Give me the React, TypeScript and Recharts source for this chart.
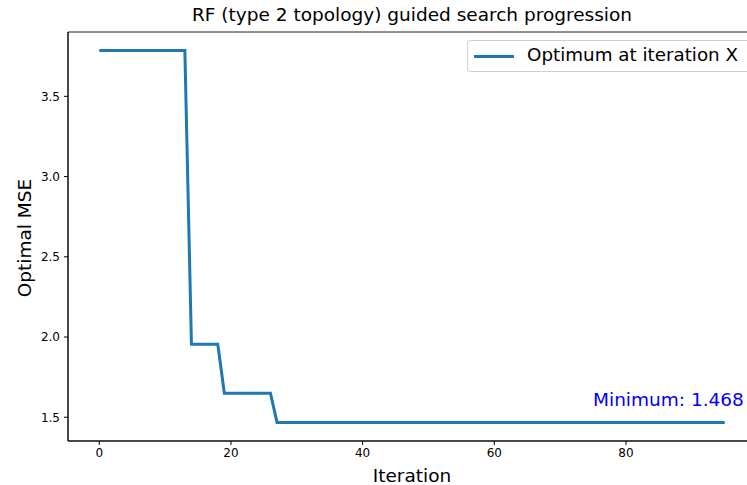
import React from "react";
import {
  LineChart,
  Line,
  XAxis,
  YAxis,
  Legend,
  Label,
  ReferenceArea,
  ReferenceDot,
} from "recharts";

const iterations = [
  0, 1, 2, 3, 4, 5, 6, 7, 8, 9, 10, 11, 12, 13, 14, 15, 16, 17, 18, 19,
  20, 21, 22, 23, 24, 25, 26, 27, 28, 29, 30, 31, 32, 33, 34, 35, 36, 37, 38, 39,
  40, 41, 42, 43, 44, 45, 46, 47, 48, 49, 50, 51, 52, 53, 54, 55, 56, 57, 58, 59,
  60, 61, 62, 63, 64, 65, 66, 67, 68, 69, 70, 71, 72, 73, 74, 75, 76, 77, 78, 79,
  80, 81, 82, 83, 84, 85, 86, 87, 88, 89, 90, 91, 92, 93, 94, 95,
];

const optimumMse = [
  3.785, 3.785, 3.785, 3.785, 3.785, 3.785, 3.785, 3.785, 3.785, 3.785,
  3.785, 3.785, 3.785, 3.785, 1.955, 1.955, 1.955, 1.955, 1.955, 1.65,
  1.65, 1.65, 1.65, 1.65, 1.65, 1.65, 1.65, 1.468, 1.468, 1.468,
  1.468, 1.468, 1.468, 1.468, 1.468, 1.468, 1.468, 1.468, 1.468, 1.468,
  1.468, 1.468, 1.468, 1.468, 1.468, 1.468, 1.468, 1.468, 1.468, 1.468,
  1.468, 1.468, 1.468, 1.468, 1.468, 1.468, 1.468, 1.468, 1.468, 1.468,
  1.468, 1.468, 1.468, 1.468, 1.468, 1.468, 1.468, 1.468, 1.468, 1.468,
  1.468, 1.468, 1.468, 1.468, 1.468, 1.468, 1.468, 1.468, 1.468, 1.468,
  1.468, 1.468, 1.468, 1.468, 1.468, 1.468, 1.468, 1.468, 1.468, 1.468,
  1.468, 1.468, 1.468, 1.468, 1.468, 1.468,
];

const xTicks = [0, 20, 40, 60, 80];
const yTicks = [1.5, 2.0, 2.5, 3.0, 3.5];
const minimum = 1.468;

const data = iterations.map((it, i) => ({ iteration: it, mse: optimumMse[i] }));

const X_DOMAIN = [-4.75, 99.75];
const Y_DOMAIN = [1.352, 3.901];
const FONT = "'DejaVu Sans', sans-serif";

const MinimumLabel = (props: any) => {
  const { x, y } = props.viewBox;
  return (
    <text x={x} y={y} fill="#0000ff" fontSize={18.5} fontFamily={FONT} textAnchor="start">
      {`Minimum: ${minimum.toFixed(3)}`}
    </text>
  );
};

const LegendBox = () => (
  <div
    style={{
      position: "absolute",
      left: 467,
      top: 40,
      width: 300,
      height: 32,
      border: "1px solid #d0d0d0",
      borderRadius: 3,
      background: "#fff",
      fontFamily: FONT,
      fontSize: 18.3,
      color: "#000",
      boxSizing: "border-box",
    }}
  >
    <div
      style={{
        position: "absolute",
        left: 6,
        top: 14,
        width: 40,
        height: 3,
        background: "#1f77b4",
      }}
    />
    <span style={{ position: "absolute", left: 59, top: 3, whiteSpace: "nowrap" }}>
      Optimum at iteration X
    </span>
  </div>
);

export default function App() {
  return (
    <div
      style={{
        position: "absolute",
        left: 0,
        top: 0,
        width: 747,
        height: 485,
        overflow: "hidden",
        background: "#fff",
        fontFamily: FONT,
      }}
    >
      <div
        style={{
          position: "absolute",
          left: 68,
          width: 688,
          top: 4,
          textAlign: "center",
          fontSize: 18.5,
          color: "#000",
          whiteSpace: "nowrap",
        }}
      >
        RF (type 2 topology) guided search progression
      </div>
      <LineChart
        width={770}
        height={485}
        data={data}
        margin={{ top: 32, right: 14, bottom: 0, left: 0 }}
      >
        <XAxis
          dataKey="iteration"
          type="number"
          domain={X_DOMAIN}
          ticks={xTicks}
          allowDataOverflow
          height={44}
          tickSize={4}
          tickMargin={3}
          stroke="#000"
          tick={{ fill: "#000", fontSize: 12, fontFamily: FONT }}
        >
          <Label
            content={(p: any) => (
              <text
                x={p.viewBox.x + p.viewBox.width / 2}
                y={482}
                textAnchor="middle"
                fontSize={18.5}
                fontFamily={FONT}
                fill="#000"
              >
                Iteration
              </text>
            )}
          />
        </XAxis>
        <YAxis
          type="number"
          domain={Y_DOMAIN}
          ticks={yTicks}
          allowDataOverflow
          width={68}
          tickSize={4}
          tickMargin={4}
          stroke="#000"
          tickFormatter={(v: number) => v.toFixed(1)}
          tick={{ fill: "#000", fontSize: 12, fontFamily: FONT }}
        >
          <Label
            content={() => {
              const cy = 238;
              return (
                <text
                  x={30.5}
                  y={cy}
                  transform={`rotate(-90, 30.5, ${cy})`}
                  textAnchor="middle"
                  fontSize={18.5}
                  fontFamily={FONT}
                  fill="#000"
                >
                  Optimal MSE
                </text>
              );
            }}
          />
        </YAxis>
        <ReferenceArea
          x1={X_DOMAIN[0]}
          x2={X_DOMAIN[1]}
          y1={Y_DOMAIN[0]}
          y2={Y_DOMAIN[1]}
          fill="none"
          stroke="#222"
          strokeWidth={1}
        />
        <Line
          dataKey="mse"
          type="linear"
          stroke="#1f77b4"
          strokeWidth={3}
          dot={false}
          isAnimationActive={false}
        />
        <ReferenceDot
          x={75}
          y={minimum + 0.1}
          r={0}
          fill="none"
          stroke="none"
          label={MinimumLabel}
        />
        <Legend content={() => null} />
      </LineChart>
      <LegendBox />
    </div>
  );
}
